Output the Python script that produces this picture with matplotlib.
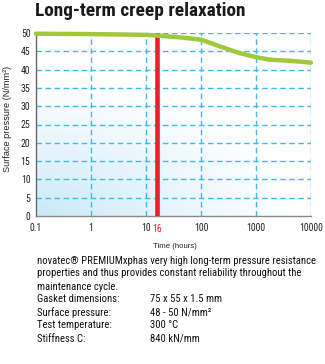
import numpy as np
import matplotlib
matplotlib.use("Agg")
import matplotlib.pyplot as plt
from matplotlib import font_manager

names = {f.name for f in font_manager.fontManager.ttflist}
family = 'Liberation Sans'
for cand in ['Liberation Sans Narrow', 'Roboto Condensed', 'Open Sans Condensed', 'Roboto', 'Liberation Sans']:
    if cand in names:
        family = cand
        break
plt.rcParams['font.family'] = [family, 'DejaVu Sans']

hours = [0.1, 1, 10, 16, 42, 100, 215, 500, 1000, 1800, 4200, 10000]
pressure = [49.8, 49.7, 49.5, 49.3, 48.8, 48.2, 46.4, 44.5, 43.4, 42.7, 42.4, 41.9]
x_ticks = [0.1, 1, 10, 100, 1000, 10000]
x_tick_labels = ["0.1", "1", "10", "100", "1000", "10000"]
y_ticks = [0, 5, 10, 15, 20, 25, 30, 35, 40, 45, 50]
marker_hour = 16
marker_label = "16"

title = "Long-term creep relaxation"
xlabel = "Time (hours)"
ylabel = "Surface pressure (N/mm²)"
para = ["novatec® PREMIUMxphas very high long-term pressure resistance",
        "properties and thus provides constant reliability throughout the",
        "maintenance cycle."]
specs_keys = ["Gasket dimensions:", "Surface pressure:", "Test temperature:", "Stiffness C:"]
specs_vals = ["75 x 55 x 1.5 mm", "48 - 50 N/mm²", "300 °C", "840 kN/mm"]

W, H = 325, 364
fig = plt.figure(figsize=(W/100, H/100), dpi=100)
renderer = fig.canvas.get_renderer()


def fit(txt, target_px, maxsize, vertical=False):
    txt.set_fontsize(10)
    ext = txt.get_window_extent(renderer)
    w = ext.height if vertical else ext.width
    size = min(maxsize, 10*target_px/w)
    txt.set_fontsize(size)
    return size


ax = fig.add_axes([36/W, 1-216/H, (311-36)/W, (216-33)/H])
ax.set_xscale('log')
ax.set_xlim(0.1, 10000)
ax.set_ylim(0, 50)

# background gradient (radial from bottom-left)
n = 200
u, v = np.meshgrid(np.linspace(0, 1, n), np.linspace(0, 1, n))
r = np.sqrt((u/0.95)**2 + (v/0.75)**2)
t = np.clip(1 - r, 0, 1)**1.1
img = np.zeros((n, n, 4))
img[..., 0] = 192/255
img[..., 1] = 229/255
img[..., 2] = 248/255
img[..., 3] = t*0.85
ax.imshow(img, extent=[0, 1, 0, 1], transform=ax.transAxes, origin='lower',
          aspect='auto', zorder=0, interpolation='bilinear')

gc = '#3dbbec'
for xv in x_ticks[1:]:
    ax.axvline(xv, color=gc, lw=1.0, ls=(0, (4, 2.5)), zorder=1)
for yv in y_ticks[1:]:
    ax.axhline(yv, color=gc, lw=1.0, ls=(0, (4, 2.5)), zorder=1)

ax.axvline(marker_hour, color='#e8202a', lw=3.3, zorder=3)
ax.plot(hours, pressure, color='#a2c83a', lw=3.2, solid_capstyle='round',
        solid_joinstyle='round', zorder=4, clip_on=False)

ax.set_xticks(x_ticks)
ax.set_xticklabels(x_tick_labels)
ax.xaxis.set_minor_locator(matplotlib.ticker.NullLocator())
ax.set_yticks(y_ticks)
ax.tick_params(axis='y', length=0, labelsize=7, colors='#222222', pad=4)
ax.tick_params(axis='x', length=0, labelsize=7, colors='#222222', pad=5)
ax.text(marker_hour, -2.1, marker_label, color='#e8202a', fontsize=7,
        ha='center', va='top', transform=ax.transData)

for s in ['top', 'right']:
    ax.spines[s].set_visible(False)
ax.spines['left'].set_color('#666666')
ax.spines['left'].set_linewidth(1.0)
ax.spines['bottom'].set_color('#888888')
ax.spines['bottom'].set_linewidth(1.0)

label_family = ['Liberation Sans', 'DejaVu Sans']
xl = fig.text(175/W, 1-246/H, xlabel, ha='center', va='center', color='#222222',
              family=label_family)
fit(xl, 44, 7)
yl = fig.text(8/W, 1-119/H, ylabel, ha='center', va='center',
              rotation=90, color='#222222', family=label_family)
fit(yl, 106, 7, vertical=True)

tt = fig.text(35/W, 1-11/H, title, ha='left', va='center', color='#1a1a1a', fontweight='bold')
fit(tt, 210, 16)

y0 = 260.5
dy = 13.0
first = fig.text(37/W, 1-y0/H, para[0], ha='left', va='center', color='#111111')
ps = fit(first, 276, 9)
for i, line in enumerate(para[1:], start=1):
    fig.text(37/W, 1-(y0+i*dy)/H, line, fontsize=ps, ha='left', va='center', color='#111111')
for j, (k, val) in enumerate(zip(specs_keys, specs_vals)):
    yy = 1-(y0+(3+j)*dy)/H
    fig.text(37/W, yy, k, fontsize=ps, ha='left', va='center', color='#111111')
    fig.text(150/W, yy, val, fontsize=ps, ha='left', va='center', color='#111111')

fig.savefig('out.png', dpi=100)
